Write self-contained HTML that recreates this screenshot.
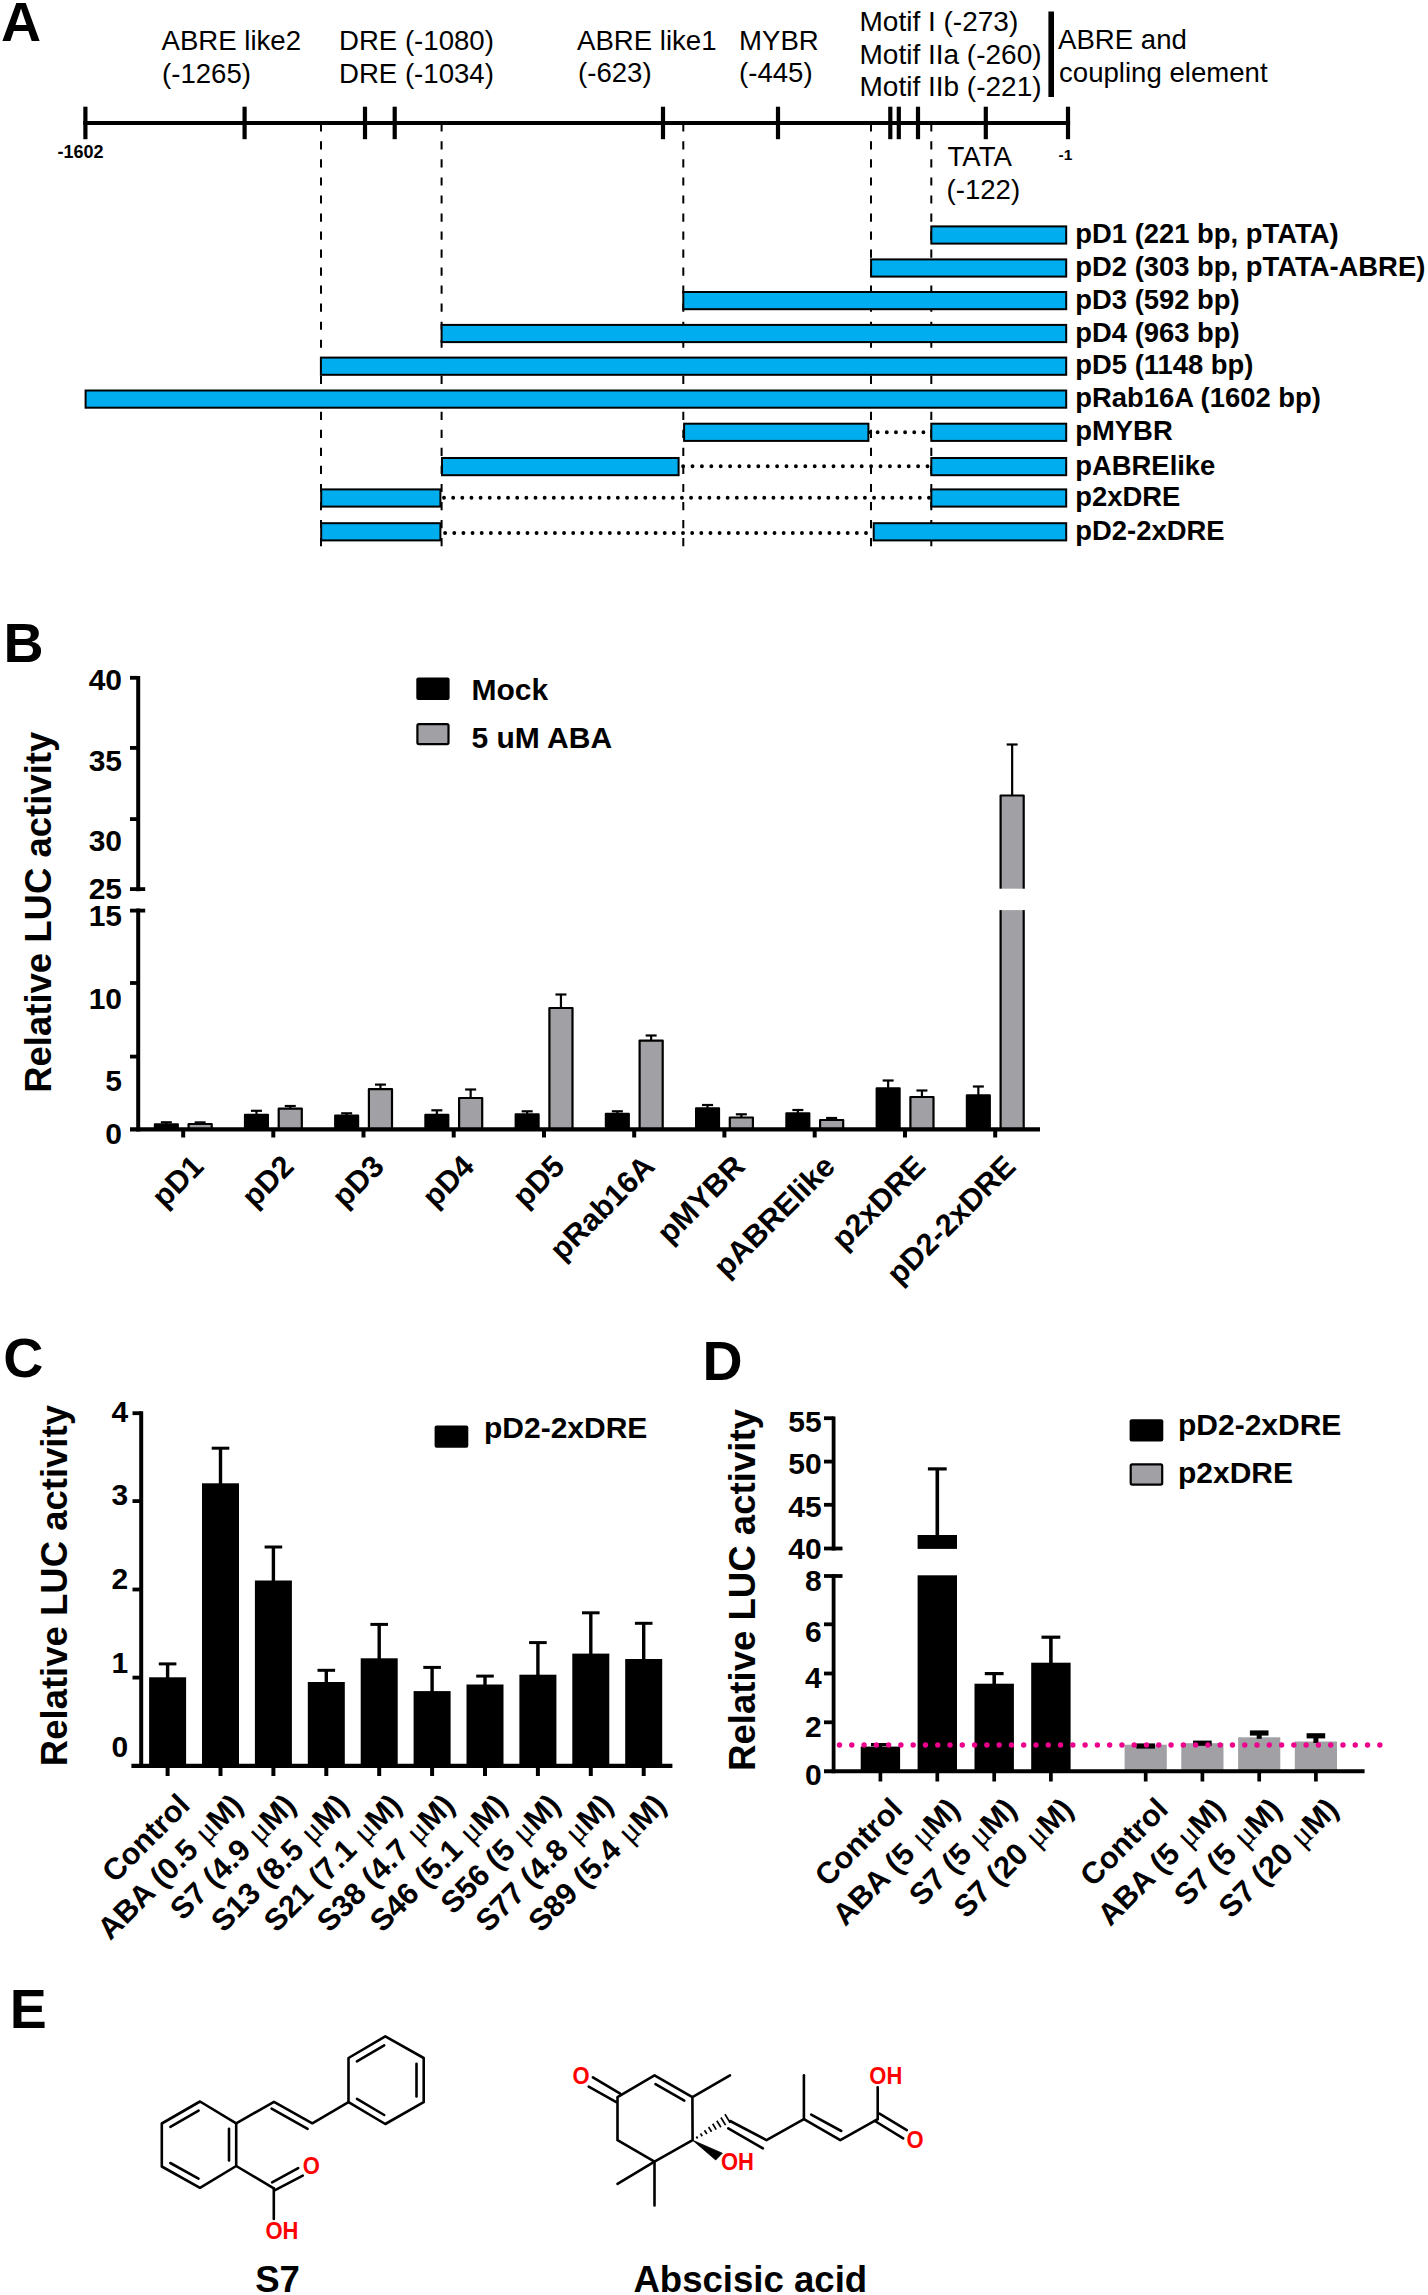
<!DOCTYPE html>
<html><head><meta charset="utf-8"><title>Figure</title>
<style>
html,body{margin:0;padding:0;background:#fff;}
body{width:1428px;height:2295px;overflow:hidden;}
svg{display:block;font-family:'Liberation Sans', sans-serif;}
</style></head>
<body>
<svg width="1428" height="2295" viewBox="0 0 1428 2295">
<rect width="1428" height="2295" fill="#fff"/>
<g id="A">
<text x="1" y="40.9" font-size="55.5" font-weight="700" text-anchor="start" fill="#000">A</text>
<text x="161.5" y="50" font-size="27.6" text-anchor="start" fill="#000">ABRE like2</text>
<text x="162" y="83" font-size="27.6" text-anchor="start" fill="#000">(-1265)</text>
<text x="339" y="50" font-size="27.6" text-anchor="start" fill="#000">DRE (-1080)</text>
<text x="339" y="83" font-size="27.6" text-anchor="start" fill="#000">DRE (-1034)</text>
<text x="577" y="49.7" font-size="27.6" text-anchor="start" fill="#000">ABRE like1</text>
<text x="578" y="82" font-size="27.6" text-anchor="start" fill="#000">(-623)</text>
<text x="739" y="49.7" font-size="27.6" text-anchor="start" fill="#000">MYBR</text>
<text x="739" y="82" font-size="27.6" text-anchor="start" fill="#000">(-445)</text>
<text x="859.5" y="31" font-size="28" text-anchor="start" fill="#000">Motif I (-273)</text>
<text x="859.5" y="63.5" font-size="28" text-anchor="start" fill="#000">Motif IIa (-260)</text>
<text x="859.5" y="95.5" font-size="28" text-anchor="start" fill="#000">Motif IIb (-221)</text>
<text x="1058" y="48.7" font-size="27.6" text-anchor="start" fill="#000">ABRE and</text>
<text x="1059" y="81.7" font-size="27.6" text-anchor="start" fill="#000">coupling element</text>
<line x1="1051.2" y1="11.5" x2="1051.2" y2="97" stroke="#000" stroke-width="5.6"/>
<text x="947.5" y="166.4" font-size="27.6" text-anchor="start" fill="#000">TATA</text>
<text x="946.5" y="199.2" font-size="27.6" text-anchor="start" fill="#000">(-122)</text>
<line x1="321" y1="123.3" x2="321" y2="546.4" stroke="#000" stroke-width="2" stroke-dasharray="8.2 9.83"/>
<line x1="441.6" y1="123.3" x2="441.6" y2="546.4" stroke="#000" stroke-width="2" stroke-dasharray="8.2 9.83"/>
<line x1="683.3" y1="123.3" x2="683.3" y2="546.4" stroke="#000" stroke-width="2" stroke-dasharray="8.2 9.83"/>
<line x1="871" y1="123.3" x2="871" y2="546.4" stroke="#000" stroke-width="2" stroke-dasharray="8.2 9.83"/>
<line x1="931.3" y1="123.3" x2="931.3" y2="546.4" stroke="#000" stroke-width="2" stroke-dasharray="8.2 9.83"/>
<line x1="83.3" y1="123" x2="1070.1" y2="123" stroke="#000" stroke-width="4.2"/>
<line x1="85.4" y1="106.7" x2="85.4" y2="139.2" stroke="#000" stroke-width="4.2"/>
<line x1="244.6" y1="106.7" x2="244.6" y2="139.2" stroke="#000" stroke-width="4.2"/>
<line x1="365" y1="106.7" x2="365" y2="139.2" stroke="#000" stroke-width="4.2"/>
<line x1="394.7" y1="106.7" x2="394.7" y2="139.2" stroke="#000" stroke-width="4.2"/>
<line x1="663" y1="106.7" x2="663" y2="139.2" stroke="#000" stroke-width="4.2"/>
<line x1="778" y1="106.7" x2="778" y2="139.2" stroke="#000" stroke-width="4.2"/>
<line x1="890.3" y1="106.7" x2="890.3" y2="139.2" stroke="#000" stroke-width="4.2"/>
<line x1="898.8" y1="106.7" x2="898.8" y2="139.2" stroke="#000" stroke-width="4.2"/>
<line x1="918" y1="106.7" x2="918" y2="139.2" stroke="#000" stroke-width="4.2"/>
<line x1="985.8" y1="106.7" x2="985.8" y2="139.2" stroke="#000" stroke-width="4.2"/>
<line x1="1068" y1="106.7" x2="1068" y2="139.2" stroke="#000" stroke-width="4.2"/>
<text x="57.5" y="158" font-size="18" font-weight="700" text-anchor="start" fill="#000">-1602</text>
<text x="1058.5" y="159.5" font-size="15.5" font-weight="700" text-anchor="start" fill="#000">-1</text>
<rect x="931.3" y="226.4" width="134.9" height="17.2" fill="#00AEEF" stroke="#000" stroke-width="2"/>
<text x="1075.3" y="243.0" font-size="27.4" font-weight="700" text-anchor="start" fill="#000">pD1 (221 bp, pTATA)</text>
<rect x="871.1" y="259.4" width="195.1" height="17.2" fill="#00AEEF" stroke="#000" stroke-width="2"/>
<text x="1075.3" y="276.0" font-size="27.4" font-weight="700" text-anchor="start" fill="#000">pD2 (303 bp, pTATA-ABRE)</text>
<rect x="683.3" y="292" width="382.9" height="17.2" fill="#00AEEF" stroke="#000" stroke-width="2"/>
<text x="1075.3" y="308.6" font-size="27.4" font-weight="700" text-anchor="start" fill="#000">pD3 (592 bp)</text>
<rect x="441.6" y="324.9" width="624.6" height="17.2" fill="#00AEEF" stroke="#000" stroke-width="2"/>
<text x="1075.3" y="341.5" font-size="27.4" font-weight="700" text-anchor="start" fill="#000">pD4 (963 bp)</text>
<rect x="320.9" y="357.6" width="745.3" height="17.2" fill="#00AEEF" stroke="#000" stroke-width="2"/>
<text x="1075.3" y="374.2" font-size="27.4" font-weight="700" text-anchor="start" fill="#000">pD5 (1148 bp)</text>
<rect x="85.6" y="390.5" width="980.6" height="17.2" fill="#00AEEF" stroke="#000" stroke-width="2"/>
<text x="1075.3" y="407.1" font-size="27.4" font-weight="700" text-anchor="start" fill="#000">pRab16A (1602 bp)</text>
<line x1="868.5" y1="432.2" x2="932.3" y2="432.2" stroke="#000" stroke-width="3.9" stroke-dasharray="0.01 9.14" stroke-linecap="round"/>
<rect x="684.1" y="423.7" width="184.3" height="17.2" fill="#00AEEF" stroke="#000" stroke-width="2"/>
<rect x="931.3" y="423.7" width="134.9" height="17.2" fill="#00AEEF" stroke="#000" stroke-width="2"/>
<text x="1075.3" y="440.3" font-size="27.4" font-weight="700" text-anchor="start" fill="#000">pMYBR</text>
<line x1="683.1" y1="466.3" x2="932.3" y2="466.3" stroke="#000" stroke-width="3.9" stroke-dasharray="0.01 9.39" stroke-linecap="round"/>
<rect x="442" y="458" width="236.6" height="17.2" fill="#00AEEF" stroke="#000" stroke-width="2"/>
<rect x="931.3" y="458" width="134.9" height="17.2" fill="#00AEEF" stroke="#000" stroke-width="2"/>
<text x="1075.3" y="474.6" font-size="27.4" font-weight="700" text-anchor="start" fill="#000">pABRElike</text>
<line x1="444" y1="497.8" x2="932.3" y2="497.8" stroke="#000" stroke-width="3.9" stroke-dasharray="0.01 9.14" stroke-linecap="round"/>
<rect x="321.2" y="489.4" width="119.2" height="17.2" fill="#00AEEF" stroke="#000" stroke-width="2"/>
<rect x="931.3" y="489.4" width="134.9" height="17.2" fill="#00AEEF" stroke="#000" stroke-width="2"/>
<text x="1075.3" y="506.0" font-size="27.4" font-weight="700" text-anchor="start" fill="#000">p2xDRE</text>
<line x1="445.1" y1="533" x2="874.7" y2="533" stroke="#000" stroke-width="3.9" stroke-dasharray="0.01 9.14" stroke-linecap="round"/>
<rect x="321.2" y="523.2" width="119.2" height="17.2" fill="#00AEEF" stroke="#000" stroke-width="2"/>
<rect x="873.7" y="523.2" width="192.5" height="17.2" fill="#00AEEF" stroke="#000" stroke-width="2"/>
<text x="1075.3" y="539.8" font-size="27.4" font-weight="700" text-anchor="start" fill="#000">pD2-2xDRE</text>
</g>
<g id="B">
<text x="3.5" y="661.8" font-size="55.5" font-weight="700" text-anchor="start" fill="#000">B</text>
<text x="50.6" y="912.3" font-size="36.5" font-weight="700" text-anchor="middle" fill="#000" transform="rotate(-90 50.6 912.3)">Relative LUC activity</text>
<line x1="138.2" y1="675.9" x2="138.2" y2="891.2" stroke="#000" stroke-width="4"/>
<line x1="138.2" y1="908.5" x2="138.2" y2="1131.5" stroke="#000" stroke-width="4"/>
<line x1="130" y1="677.8" x2="138.2" y2="677.8" stroke="#000" stroke-width="3.8"/>
<text x="122" y="690" font-size="30" font-weight="700" text-anchor="end" fill="#000">40</text>
<line x1="130" y1="747.9" x2="138.2" y2="747.9" stroke="#000" stroke-width="3.8"/>
<text x="122" y="770.5" font-size="30" font-weight="700" text-anchor="end" fill="#000">35</text>
<line x1="130" y1="819.1" x2="138.2" y2="819.1" stroke="#000" stroke-width="3.8"/>
<text x="122" y="851.2" font-size="30" font-weight="700" text-anchor="end" fill="#000">30</text>
<line x1="130" y1="889.1" x2="145.2" y2="889.1" stroke="#000" stroke-width="3.8"/>
<text x="122" y="899" font-size="30" font-weight="700" text-anchor="end" fill="#000">25</text>
<line x1="130" y1="910.6" x2="145.2" y2="910.6" stroke="#000" stroke-width="3.8"/>
<text x="122" y="926" font-size="30" font-weight="700" text-anchor="end" fill="#000">15</text>
<line x1="130" y1="983" x2="138.2" y2="983" stroke="#000" stroke-width="3.8"/>
<text x="122" y="1008.5" font-size="30" font-weight="700" text-anchor="end" fill="#000">10</text>
<line x1="130" y1="1056.6" x2="138.2" y2="1056.6" stroke="#000" stroke-width="3.8"/>
<text x="122" y="1091" font-size="30" font-weight="700" text-anchor="end" fill="#000">5</text>
<text x="122" y="1143.5" font-size="30" font-weight="700" text-anchor="end" fill="#000">0</text>
<line x1="183.2" y1="1129" x2="183.2" y2="1137.5" stroke="#000" stroke-width="4"/>
<line x1="166.35" y1="1122.3" x2="166.35" y2="1124.3" stroke="#000" stroke-width="2.2"/>
<line x1="160.85" y1="1122.3" x2="171.85" y2="1122.3" stroke="#000" stroke-width="2.2"/>
<rect x="154.8" y="1124.3" width="23.1" height="4.7" fill="#000" stroke="#000" stroke-width="2" stroke-linejoin="round"/>
<line x1="200.14999999999998" y1="1122.4" x2="200.14999999999998" y2="1124" stroke="#000" stroke-width="2.2"/>
<line x1="194.64999999999998" y1="1122.4" x2="205.64999999999998" y2="1122.4" stroke="#000" stroke-width="2.2"/>
<rect x="188.6" y="1124" width="23.1" height="5" fill="#A1A1A5" stroke="#000" stroke-width="2.2" stroke-linejoin="round"/>
<text x="205.4" y="1168.2" font-size="30.6" font-weight="700" text-anchor="end" fill="#000" transform="rotate(-45 205.4 1168.2)">pD1</text>
<line x1="273.3" y1="1129" x2="273.3" y2="1137.5" stroke="#000" stroke-width="4"/>
<line x1="256.45" y1="1110.8" x2="256.45" y2="1114.7" stroke="#000" stroke-width="2.2"/>
<line x1="250.95" y1="1110.8" x2="261.95" y2="1110.8" stroke="#000" stroke-width="2.2"/>
<rect x="244.9" y="1114.7" width="23.1" height="14.3" fill="#000" stroke="#000" stroke-width="2" stroke-linejoin="round"/>
<line x1="290.25" y1="1106" x2="290.25" y2="1108.7" stroke="#000" stroke-width="2.2"/>
<line x1="284.75" y1="1106" x2="295.75" y2="1106" stroke="#000" stroke-width="2.2"/>
<rect x="278.7" y="1108.7" width="23.1" height="20.3" fill="#A1A1A5" stroke="#000" stroke-width="2.2" stroke-linejoin="round"/>
<text x="295.5" y="1168.2" font-size="30.6" font-weight="700" text-anchor="end" fill="#000" transform="rotate(-45 295.5 1168.2)">pD2</text>
<line x1="363.5" y1="1129" x2="363.5" y2="1137.5" stroke="#000" stroke-width="4"/>
<line x1="346.65" y1="1113.3" x2="346.65" y2="1115.6" stroke="#000" stroke-width="2.2"/>
<line x1="341.15" y1="1113.3" x2="352.15" y2="1113.3" stroke="#000" stroke-width="2.2"/>
<rect x="335.1" y="1115.6" width="23.1" height="13.4" fill="#000" stroke="#000" stroke-width="2" stroke-linejoin="round"/>
<line x1="380.45" y1="1084.6" x2="380.45" y2="1089.2" stroke="#000" stroke-width="2.2"/>
<line x1="374.95" y1="1084.6" x2="385.95" y2="1084.6" stroke="#000" stroke-width="2.2"/>
<rect x="368.9" y="1089.2" width="23.1" height="39.8" fill="#A1A1A5" stroke="#000" stroke-width="2.2" stroke-linejoin="round"/>
<text x="385.7" y="1168.2" font-size="30.6" font-weight="700" text-anchor="end" fill="#000" transform="rotate(-45 385.7 1168.2)">pD3</text>
<line x1="453.7" y1="1129" x2="453.7" y2="1137.5" stroke="#000" stroke-width="4"/>
<line x1="436.84999999999997" y1="1110.3" x2="436.84999999999997" y2="1114.7" stroke="#000" stroke-width="2.2"/>
<line x1="431.34999999999997" y1="1110.3" x2="442.34999999999997" y2="1110.3" stroke="#000" stroke-width="2.2"/>
<rect x="425.3" y="1114.7" width="23.1" height="14.3" fill="#000" stroke="#000" stroke-width="2" stroke-linejoin="round"/>
<line x1="470.65" y1="1089.5" x2="470.65" y2="1098" stroke="#000" stroke-width="2.2"/>
<line x1="465.15" y1="1089.5" x2="476.15" y2="1089.5" stroke="#000" stroke-width="2.2"/>
<rect x="459.1" y="1098" width="23.1" height="31" fill="#A1A1A5" stroke="#000" stroke-width="2.2" stroke-linejoin="round"/>
<text x="475.9" y="1168.2" font-size="30.6" font-weight="700" text-anchor="end" fill="#000" transform="rotate(-45 475.9 1168.2)">pD4</text>
<line x1="544" y1="1129" x2="544" y2="1137.5" stroke="#000" stroke-width="4"/>
<line x1="527.15" y1="1111.3" x2="527.15" y2="1114.2" stroke="#000" stroke-width="2.2"/>
<line x1="521.65" y1="1111.3" x2="532.65" y2="1111.3" stroke="#000" stroke-width="2.2"/>
<rect x="515.6" y="1114.2" width="23.1" height="14.8" fill="#000" stroke="#000" stroke-width="2" stroke-linejoin="round"/>
<line x1="560.95" y1="994.5" x2="560.95" y2="1008" stroke="#000" stroke-width="2.2"/>
<line x1="555.45" y1="994.5" x2="566.45" y2="994.5" stroke="#000" stroke-width="2.2"/>
<rect x="549.4" y="1008" width="23.1" height="121" fill="#A1A1A5" stroke="#000" stroke-width="2.2" stroke-linejoin="round"/>
<text x="566.2" y="1168.2" font-size="30.6" font-weight="700" text-anchor="end" fill="#000" transform="rotate(-45 566.2 1168.2)">pD5</text>
<line x1="634.2" y1="1129" x2="634.2" y2="1137.5" stroke="#000" stroke-width="4"/>
<line x1="617.35" y1="1111.3" x2="617.35" y2="1113.8" stroke="#000" stroke-width="2.2"/>
<line x1="611.85" y1="1111.3" x2="622.85" y2="1111.3" stroke="#000" stroke-width="2.2"/>
<rect x="605.8" y="1113.8" width="23.1" height="15.2" fill="#000" stroke="#000" stroke-width="2" stroke-linejoin="round"/>
<line x1="651.1500000000001" y1="1035.5" x2="651.1500000000001" y2="1040.6" stroke="#000" stroke-width="2.2"/>
<line x1="645.6500000000001" y1="1035.5" x2="656.6500000000001" y2="1035.5" stroke="#000" stroke-width="2.2"/>
<rect x="639.6" y="1040.6" width="23.1" height="88.4" fill="#A1A1A5" stroke="#000" stroke-width="2.2" stroke-linejoin="round"/>
<text x="656.4" y="1168.2" font-size="30.6" font-weight="700" text-anchor="end" fill="#000" transform="rotate(-45 656.4 1168.2)">pRab16A</text>
<line x1="724.4" y1="1129" x2="724.4" y2="1137.5" stroke="#000" stroke-width="4"/>
<line x1="707.55" y1="1105" x2="707.55" y2="1108.3" stroke="#000" stroke-width="2.2"/>
<line x1="702.05" y1="1105" x2="713.05" y2="1105" stroke="#000" stroke-width="2.2"/>
<rect x="696.0" y="1108.3" width="23.1" height="20.7" fill="#000" stroke="#000" stroke-width="2" stroke-linejoin="round"/>
<line x1="741.35" y1="1114.3" x2="741.35" y2="1117.5" stroke="#000" stroke-width="2.2"/>
<line x1="735.85" y1="1114.3" x2="746.85" y2="1114.3" stroke="#000" stroke-width="2.2"/>
<rect x="729.8" y="1117.5" width="23.1" height="11.5" fill="#A1A1A5" stroke="#000" stroke-width="2.2" stroke-linejoin="round"/>
<text x="746.6" y="1168.2" font-size="30.6" font-weight="700" text-anchor="end" fill="#000" transform="rotate(-45 746.6 1168.2)">pMYBR</text>
<line x1="814.7" y1="1129" x2="814.7" y2="1137.5" stroke="#000" stroke-width="4"/>
<line x1="797.85" y1="1110" x2="797.85" y2="1113.3" stroke="#000" stroke-width="2.2"/>
<line x1="792.35" y1="1110" x2="803.35" y2="1110" stroke="#000" stroke-width="2.2"/>
<rect x="786.3" y="1113.3" width="23.1" height="15.7" fill="#000" stroke="#000" stroke-width="2" stroke-linejoin="round"/>
<line x1="831.6500000000001" y1="1118" x2="831.6500000000001" y2="1120" stroke="#000" stroke-width="2.2"/>
<line x1="826.1500000000001" y1="1118" x2="837.1500000000001" y2="1118" stroke="#000" stroke-width="2.2"/>
<rect x="820.1" y="1120" width="23.1" height="9" fill="#A1A1A5" stroke="#000" stroke-width="2.2" stroke-linejoin="round"/>
<text x="836.9" y="1168.2" font-size="30.6" font-weight="700" text-anchor="end" fill="#000" transform="rotate(-45 836.9 1168.2)">pABRElike</text>
<line x1="905" y1="1129" x2="905" y2="1137.5" stroke="#000" stroke-width="4"/>
<line x1="888.15" y1="1080.5" x2="888.15" y2="1088.3" stroke="#000" stroke-width="2.2"/>
<line x1="882.65" y1="1080.5" x2="893.65" y2="1080.5" stroke="#000" stroke-width="2.2"/>
<rect x="876.6" y="1088.3" width="23.1" height="40.7" fill="#000" stroke="#000" stroke-width="2" stroke-linejoin="round"/>
<line x1="921.95" y1="1090.5" x2="921.95" y2="1097" stroke="#000" stroke-width="2.2"/>
<line x1="916.45" y1="1090.5" x2="927.45" y2="1090.5" stroke="#000" stroke-width="2.2"/>
<rect x="910.4" y="1097" width="23.1" height="32" fill="#A1A1A5" stroke="#000" stroke-width="2.2" stroke-linejoin="round"/>
<text x="927.2" y="1168.2" font-size="30.6" font-weight="700" text-anchor="end" fill="#000" transform="rotate(-45 927.2 1168.2)">p2xDRE</text>
<line x1="995.2" y1="1129" x2="995.2" y2="1137.5" stroke="#000" stroke-width="4"/>
<line x1="978.35" y1="1086.5" x2="978.35" y2="1095.3" stroke="#000" stroke-width="2.2"/>
<line x1="972.85" y1="1086.5" x2="983.85" y2="1086.5" stroke="#000" stroke-width="2.2"/>
<rect x="966.8" y="1095.3" width="23.1" height="33.7" fill="#000" stroke="#000" stroke-width="2" stroke-linejoin="round"/>
<line x1="1012.1500000000001" y1="744.5" x2="1012.1500000000001" y2="795.5" stroke="#000" stroke-width="2.2"/>
<line x1="1006.6500000000001" y1="744.5" x2="1017.6500000000001" y2="744.5" stroke="#000" stroke-width="2.2"/>
<rect x="1000.6" y="795.5" width="23.1" height="333.5" fill="#A1A1A5" stroke="#000" stroke-width="2.2" stroke-linejoin="round"/>
<text x="1017.4" y="1168.2" font-size="30.6" font-weight="700" text-anchor="end" fill="#000" transform="rotate(-45 1017.4 1168.2)">pD2-2xDRE</text>
<line x1="130" y1="1129.4" x2="1040" y2="1129.4" stroke="#000" stroke-width="4.2"/>
<rect x="998" y="888.7" width="29" height="21.4" fill="#fff"/>
<rect x="416.3" y="677.6" width="33.3" height="22.4" fill="#000" rx="2"/>
<text x="471.5" y="700" font-size="30" font-weight="700" text-anchor="start" fill="#000">Mock</text>
<rect x="417.4" y="724.1" width="31.1" height="20" fill="#A1A1A5" stroke="#000" stroke-width="2.2" rx="1.5"/>
<text x="471.5" y="748.2" font-size="30" font-weight="700" text-anchor="start" fill="#000">5 uM ABA</text>
</g>
<g id="C">
<text x="3.3" y="1376.5" font-size="55.5" font-weight="700" text-anchor="start" fill="#000">C</text>
<text x="66.6" y="1585.6" font-size="36.5" font-weight="700" text-anchor="middle" fill="#000" transform="rotate(-90 66.6 1585.6)">Relative LUC activity</text>
<line x1="141.2" y1="1411.3" x2="141.2" y2="1768" stroke="#000" stroke-width="4"/>
<line x1="132.5" y1="1413.2" x2="141.2" y2="1413.2" stroke="#000" stroke-width="3.8"/>
<text x="128.3" y="1422" font-size="30" font-weight="700" text-anchor="end" fill="#000">4</text>
<line x1="132.5" y1="1501.1" x2="141.2" y2="1501.1" stroke="#000" stroke-width="3.8"/>
<text x="128.3" y="1505.4" font-size="30" font-weight="700" text-anchor="end" fill="#000">3</text>
<line x1="132.5" y1="1589.5" x2="141.2" y2="1589.5" stroke="#000" stroke-width="3.8"/>
<text x="128.3" y="1589.4" font-size="30" font-weight="700" text-anchor="end" fill="#000">2</text>
<line x1="132.5" y1="1677.6" x2="141.2" y2="1677.6" stroke="#000" stroke-width="3.8"/>
<text x="128.3" y="1673" font-size="30" font-weight="700" text-anchor="end" fill="#000">1</text>
<text x="128.3" y="1757.2" font-size="30" font-weight="700" text-anchor="end" fill="#000">0</text>
<line x1="167.6" y1="1766" x2="167.6" y2="1776" stroke="#000" stroke-width="4"/>
<line x1="167.6" y1="1663.9" x2="167.6" y2="1678.3" stroke="#000" stroke-width="3.4"/>
<line x1="158.79999999999998" y1="1663.9" x2="176.4" y2="1663.9" stroke="#000" stroke-width="3"/>
<rect x="149.1" y="1677.3" width="37" height="88.7" fill="#000"/>
<text x="191.6" y="1807" font-size="30.6" font-weight="700" text-anchor="end" fill="#000" transform="rotate(-45 191.6 1807)">Control</text>
<line x1="220.5" y1="1766" x2="220.5" y2="1776" stroke="#000" stroke-width="4"/>
<line x1="220.5" y1="1448.2" x2="220.5" y2="1484.3" stroke="#000" stroke-width="3.4"/>
<line x1="211.7" y1="1448.2" x2="229.3" y2="1448.2" stroke="#000" stroke-width="3"/>
<rect x="202.0" y="1483.3" width="37" height="282.7" fill="#000"/>
<text x="244.5" y="1807" font-size="30.6" font-weight="700" text-anchor="end" fill="#000" transform="rotate(-45 244.5 1807)">ABA (0.5 <tspan font-family="Liberation Serif, serif" font-weight="400" font-size="33" dx="1.5">μ</tspan>M)</text>
<line x1="273.4" y1="1766" x2="273.4" y2="1776" stroke="#000" stroke-width="4"/>
<line x1="273.4" y1="1547" x2="273.4" y2="1581.5" stroke="#000" stroke-width="3.4"/>
<line x1="264.59999999999997" y1="1547" x2="282.2" y2="1547" stroke="#000" stroke-width="3"/>
<rect x="254.9" y="1580.5" width="37" height="185.5" fill="#000"/>
<text x="297.4" y="1807" font-size="30.6" font-weight="700" text-anchor="end" fill="#000" transform="rotate(-45 297.4 1807)">S7 (4.9 <tspan font-family="Liberation Serif, serif" font-weight="400" font-size="33" dx="1.5">μ</tspan>M)</text>
<line x1="326.3" y1="1766" x2="326.3" y2="1776" stroke="#000" stroke-width="4"/>
<line x1="326.3" y1="1670.3" x2="326.3" y2="1683" stroke="#000" stroke-width="3.4"/>
<line x1="317.5" y1="1670.3" x2="335.1" y2="1670.3" stroke="#000" stroke-width="3"/>
<rect x="307.8" y="1682" width="37" height="84" fill="#000"/>
<text x="350.3" y="1807" font-size="30.6" font-weight="700" text-anchor="end" fill="#000" transform="rotate(-45 350.3 1807)">S13 (8.5 <tspan font-family="Liberation Serif, serif" font-weight="400" font-size="33" dx="1.5">μ</tspan>M)</text>
<line x1="379.2" y1="1766" x2="379.2" y2="1776" stroke="#000" stroke-width="4"/>
<line x1="379.2" y1="1624.4" x2="379.2" y2="1659.3" stroke="#000" stroke-width="3.4"/>
<line x1="370.4" y1="1624.4" x2="388.0" y2="1624.4" stroke="#000" stroke-width="3"/>
<rect x="360.7" y="1658.3" width="37" height="107.7" fill="#000"/>
<text x="403.2" y="1807" font-size="30.6" font-weight="700" text-anchor="end" fill="#000" transform="rotate(-45 403.2 1807)">S21 (7.1 <tspan font-family="Liberation Serif, serif" font-weight="400" font-size="33" dx="1.5">μ</tspan>M)</text>
<line x1="432.1" y1="1766" x2="432.1" y2="1776" stroke="#000" stroke-width="4"/>
<line x1="432.1" y1="1667.4" x2="432.1" y2="1692.1" stroke="#000" stroke-width="3.4"/>
<line x1="423.3" y1="1667.4" x2="440.90000000000003" y2="1667.4" stroke="#000" stroke-width="3"/>
<rect x="413.6" y="1691.1" width="37" height="74.9" fill="#000"/>
<text x="456.1" y="1807" font-size="30.6" font-weight="700" text-anchor="end" fill="#000" transform="rotate(-45 456.1 1807)">S38 (4.7 <tspan font-family="Liberation Serif, serif" font-weight="400" font-size="33" dx="1.5">μ</tspan>M)</text>
<line x1="485.0" y1="1766" x2="485.0" y2="1776" stroke="#000" stroke-width="4"/>
<line x1="485.0" y1="1676.1" x2="485.0" y2="1685.5" stroke="#000" stroke-width="3.4"/>
<line x1="476.2" y1="1676.1" x2="493.8" y2="1676.1" stroke="#000" stroke-width="3"/>
<rect x="466.5" y="1684.5" width="37" height="81.5" fill="#000"/>
<text x="509.0" y="1807" font-size="30.6" font-weight="700" text-anchor="end" fill="#000" transform="rotate(-45 509.0 1807)">S46 (5.1 <tspan font-family="Liberation Serif, serif" font-weight="400" font-size="33" dx="1.5">μ</tspan>M)</text>
<line x1="537.9" y1="1766" x2="537.9" y2="1776" stroke="#000" stroke-width="4"/>
<line x1="537.9" y1="1642.6" x2="537.9" y2="1675.7" stroke="#000" stroke-width="3.4"/>
<line x1="529.1" y1="1642.6" x2="546.6999999999999" y2="1642.6" stroke="#000" stroke-width="3"/>
<rect x="519.4" y="1674.7" width="37" height="91.3" fill="#000"/>
<text x="561.9" y="1807" font-size="30.6" font-weight="700" text-anchor="end" fill="#000" transform="rotate(-45 561.9 1807)">S56 (5 <tspan font-family="Liberation Serif, serif" font-weight="400" font-size="33" dx="1.5">μ</tspan>M)</text>
<line x1="590.8" y1="1766" x2="590.8" y2="1776" stroke="#000" stroke-width="4"/>
<line x1="590.8" y1="1612.8" x2="590.8" y2="1654.6" stroke="#000" stroke-width="3.4"/>
<line x1="582.0" y1="1612.8" x2="599.5999999999999" y2="1612.8" stroke="#000" stroke-width="3"/>
<rect x="572.3" y="1653.6" width="37" height="112.4" fill="#000"/>
<text x="614.8" y="1807" font-size="30.6" font-weight="700" text-anchor="end" fill="#000" transform="rotate(-45 614.8 1807)">S77 (4.8 <tspan font-family="Liberation Serif, serif" font-weight="400" font-size="33" dx="1.5">μ</tspan>M)</text>
<line x1="643.7" y1="1766" x2="643.7" y2="1776" stroke="#000" stroke-width="4"/>
<line x1="643.7" y1="1623.3" x2="643.7" y2="1660" stroke="#000" stroke-width="3.4"/>
<line x1="634.9000000000001" y1="1623.3" x2="652.5" y2="1623.3" stroke="#000" stroke-width="3"/>
<rect x="625.2" y="1659" width="37" height="107" fill="#000"/>
<text x="667.7" y="1807" font-size="30.6" font-weight="700" text-anchor="end" fill="#000" transform="rotate(-45 667.7 1807)">S89 (5.4 <tspan font-family="Liberation Serif, serif" font-weight="400" font-size="33" dx="1.5">μ</tspan>M)</text>
<line x1="131.4" y1="1765.9" x2="672.4" y2="1765.9" stroke="#000" stroke-width="4.2"/>
<rect x="434.6" y="1425.5" width="33.7" height="22.2" fill="#000" rx="2"/>
<text x="484" y="1438.3" font-size="30" font-weight="700" text-anchor="start" fill="#000">pD2-2xDRE</text>
</g>
<g id="D">
<text x="702.6" y="1380.4" font-size="55.5" font-weight="700" text-anchor="start" fill="#000">D</text>
<text x="755.3" y="1590" font-size="36.6" font-weight="700" text-anchor="middle" fill="#000" transform="rotate(-90 755.3 1590)">Relative LUC activity</text>
<line x1="833.6" y1="1416.4" x2="833.6" y2="1550.4" stroke="#000" stroke-width="3.8"/>
<line x1="833.6" y1="1574.1" x2="833.6" y2="1773.2" stroke="#000" stroke-width="3.8"/>
<line x1="824" y1="1418.2" x2="833.6" y2="1418.2" stroke="#000" stroke-width="3.8"/>
<text x="821.6" y="1432.3" font-size="30" font-weight="700" text-anchor="end" fill="#000">55</text>
<line x1="824" y1="1461.6" x2="833.6" y2="1461.6" stroke="#000" stroke-width="3.8"/>
<text x="821.6" y="1474.3" font-size="30" font-weight="700" text-anchor="end" fill="#000">50</text>
<line x1="824" y1="1504.8" x2="833.6" y2="1504.8" stroke="#000" stroke-width="3.8"/>
<text x="821.6" y="1516.9" font-size="30" font-weight="700" text-anchor="end" fill="#000">45</text>
<line x1="824" y1="1548.5" x2="842.5" y2="1548.5" stroke="#000" stroke-width="3.8"/>
<text x="821.6" y="1558.5" font-size="30" font-weight="700" text-anchor="end" fill="#000">40</text>
<line x1="824" y1="1576" x2="842.5" y2="1576" stroke="#000" stroke-width="3.8"/>
<text x="821.6" y="1591" font-size="30" font-weight="700" text-anchor="end" fill="#000">8</text>
<line x1="824" y1="1624.3" x2="833.6" y2="1624.3" stroke="#000" stroke-width="3.8"/>
<text x="821.6" y="1642.2" font-size="30" font-weight="700" text-anchor="end" fill="#000">6</text>
<line x1="824" y1="1673.5" x2="833.6" y2="1673.5" stroke="#000" stroke-width="3.8"/>
<text x="821.6" y="1687.5" font-size="30" font-weight="700" text-anchor="end" fill="#000">4</text>
<line x1="824" y1="1722.3" x2="833.6" y2="1722.3" stroke="#000" stroke-width="3.8"/>
<text x="821.6" y="1736.6" font-size="30" font-weight="700" text-anchor="end" fill="#000">2</text>
<text x="821.6" y="1785" font-size="30" font-weight="700" text-anchor="end" fill="#000">0</text>
<line x1="880.4" y1="1771" x2="880.4" y2="1781.5" stroke="#000" stroke-width="3.7"/>
<line x1="880.4" y1="1744.6" x2="880.4" y2="1747.6" stroke="#000" stroke-width="3.6"/>
<line x1="871.0" y1="1744.6" x2="889.8" y2="1744.6" stroke="#000" stroke-width="3.2"/>
<rect x="860.7" y="1746.6" width="39.4" height="24.0" fill="#000"/>
<text x="904.4" y="1811" font-size="30.6" font-weight="700" text-anchor="end" fill="#000" transform="rotate(-45 904.4 1811)">Control</text>
<line x1="937.3" y1="1771" x2="937.3" y2="1781.5" stroke="#000" stroke-width="3.7"/>
<line x1="937.3" y1="1468.9" x2="937.3" y2="1536" stroke="#000" stroke-width="3.6"/>
<line x1="927.9" y1="1468.9" x2="946.6999999999999" y2="1468.9" stroke="#000" stroke-width="3.2"/>
<rect x="917.6" y="1535" width="39.4" height="235.6" fill="#000"/>
<text x="961.3" y="1811" font-size="30.6" font-weight="700" text-anchor="end" fill="#000" transform="rotate(-45 961.3 1811)">ABA (5 <tspan font-family="Liberation Serif, serif" font-weight="400" font-size="33" dx="1.5">μ</tspan>M)</text>
<line x1="994.2" y1="1771" x2="994.2" y2="1781.5" stroke="#000" stroke-width="3.7"/>
<line x1="994.2" y1="1673.6" x2="994.2" y2="1684.7" stroke="#000" stroke-width="3.6"/>
<line x1="984.8000000000001" y1="1673.6" x2="1003.6" y2="1673.6" stroke="#000" stroke-width="3.2"/>
<rect x="974.5" y="1683.7" width="39.4" height="86.9" fill="#000"/>
<text x="1018.2" y="1811" font-size="30.6" font-weight="700" text-anchor="end" fill="#000" transform="rotate(-45 1018.2 1811)">S7 (5 <tspan font-family="Liberation Serif, serif" font-weight="400" font-size="33" dx="1.5">μ</tspan>M)</text>
<line x1="1050.9" y1="1771" x2="1050.9" y2="1781.5" stroke="#000" stroke-width="3.7"/>
<line x1="1050.9" y1="1637.2" x2="1050.9" y2="1663.7" stroke="#000" stroke-width="3.6"/>
<line x1="1041.5" y1="1637.2" x2="1060.3000000000002" y2="1637.2" stroke="#000" stroke-width="3.2"/>
<rect x="1031.2" y="1662.7" width="39.4" height="107.9" fill="#000"/>
<text x="1074.9" y="1811" font-size="30.6" font-weight="700" text-anchor="end" fill="#000" transform="rotate(-45 1074.9 1811)">S7 (20 <tspan font-family="Liberation Serif, serif" font-weight="400" font-size="33" dx="1.5">μ</tspan>M)</text>
<rect x="915.3" y="1548.9" width="44" height="26.4" fill="#fff"/>
<line x1="1145.7" y1="1771" x2="1145.7" y2="1781.5" stroke="#000" stroke-width="3.7"/>
<rect x="1124.6" y="1744.7" width="42.2" height="25.9" fill="#A1A1A5"/>
<line x1="1145.7" y1="1746" x2="1145.7" y2="1746.2" stroke="#000" stroke-width="5"/>
<line x1="1136.4" y1="1746" x2="1155.0" y2="1746" stroke="#000" stroke-width="5.2"/>
<text x="1169.7" y="1811" font-size="30.6" font-weight="700" text-anchor="end" fill="#000" transform="rotate(-45 1169.7 1811)">Control</text>
<line x1="1202.4" y1="1771" x2="1202.4" y2="1781.5" stroke="#000" stroke-width="3.7"/>
<rect x="1181.3" y="1743.2" width="42.2" height="27.4" fill="#A1A1A5"/>
<line x1="1202.4" y1="1743.2" x2="1202.4" y2="1744.7" stroke="#000" stroke-width="5"/>
<line x1="1193.1000000000001" y1="1743.2" x2="1211.7" y2="1743.2" stroke="#000" stroke-width="5.2"/>
<text x="1226.4" y="1811" font-size="30.6" font-weight="700" text-anchor="end" fill="#000" transform="rotate(-45 1226.4 1811)">ABA (5 <tspan font-family="Liberation Serif, serif" font-weight="400" font-size="33" dx="1.5">μ</tspan>M)</text>
<line x1="1259.2" y1="1771" x2="1259.2" y2="1781.5" stroke="#000" stroke-width="3.7"/>
<rect x="1238.1" y="1737.3" width="42.2" height="33.3" fill="#A1A1A5"/>
<line x1="1259.2" y1="1733" x2="1259.2" y2="1738.8" stroke="#000" stroke-width="5"/>
<line x1="1249.9" y1="1733" x2="1268.5" y2="1733" stroke="#000" stroke-width="5.2"/>
<text x="1283.2" y="1811" font-size="30.6" font-weight="700" text-anchor="end" fill="#000" transform="rotate(-45 1283.2 1811)">S7 (5 <tspan font-family="Liberation Serif, serif" font-weight="400" font-size="33" dx="1.5">μ</tspan>M)</text>
<line x1="1315.9" y1="1771" x2="1315.9" y2="1781.5" stroke="#000" stroke-width="3.7"/>
<rect x="1294.8" y="1741.5" width="42.2" height="29.1" fill="#A1A1A5"/>
<line x1="1315.9" y1="1735.8" x2="1315.9" y2="1743.0" stroke="#000" stroke-width="5"/>
<line x1="1306.6000000000001" y1="1735.8" x2="1325.2" y2="1735.8" stroke="#000" stroke-width="5.2"/>
<text x="1339.9" y="1811" font-size="30.6" font-weight="700" text-anchor="end" fill="#000" transform="rotate(-45 1339.9 1811)">S7 (20 <tspan font-family="Liberation Serif, serif" font-weight="400" font-size="33" dx="1.5">μ</tspan>M)</text>
<line x1="824" y1="1771.2" x2="1364.6" y2="1771.2" stroke="#000" stroke-width="4"/>
<line x1="839.5" y1="1745" x2="1380.5" y2="1745" stroke="#EC008C" stroke-width="5.4" stroke-dasharray="0.01 12.27" stroke-linecap="round"/>
<rect x="1129.6" y="1419.2" width="33.7" height="22.2" fill="#000" rx="2"/>
<text x="1178" y="1434.5" font-size="30" font-weight="700" text-anchor="start" fill="#000">pD2-2xDRE</text>
<rect x="1130.7" y="1464.4" width="31.5" height="20.2" fill="#A1A1A5" stroke="#000" stroke-width="2.2" rx="1.5"/>
<text x="1178" y="1483.3" font-size="30" font-weight="700" text-anchor="start" fill="#000">p2xDRE</text>
</g>
<g id="E">
<text x="9.8" y="2028" font-size="55.5" font-weight="700" text-anchor="start" fill="#000">E</text>
<path d="M161.8 2123.5 L200.0 2101.5 L236.2 2123.3 L236.2 2166.0 L200.0 2187.8 L161.8 2166.5 Z" fill="none" stroke="#000" stroke-width="2.6" stroke-linejoin="round" stroke-linecap="round"/>
<path d="M170.4 2126.9 L198.6 2110.6" fill="none" stroke="#000" stroke-width="2.6" stroke-linejoin="round" stroke-linecap="round"/>
<path d="M229.0 2128.9 L229.0 2160.4" fill="none" stroke="#000" stroke-width="2.6" stroke-linejoin="round" stroke-linecap="round"/>
<path d="M198.5 2178.7 L170.3 2163.0" fill="none" stroke="#000" stroke-width="2.6" stroke-linejoin="round" stroke-linecap="round"/>
<path d="M236.2 2123.3 L274.0 2101.8 L312.3 2123.3 L348.5 2102.2" fill="none" stroke="#000" stroke-width="2.6" stroke-linejoin="round" stroke-linecap="round"/>
<path d="M271.6 2108.7 L307.6 2128.9" fill="none" stroke="#000" stroke-width="2.6" stroke-linejoin="round" stroke-linecap="round"/>
<path d="M348.5 2102.2 L348.5 2058.0 L385.3 2036.3 L423.7 2058.0 L423.7 2102.2 L385.3 2124.0 Z" fill="none" stroke="#000" stroke-width="2.6" stroke-linejoin="round" stroke-linecap="round"/>
<path d="M356.9 2061.4 L384.2 2045.3" fill="none" stroke="#000" stroke-width="2.6" stroke-linejoin="round" stroke-linecap="round"/>
<path d="M416.5 2063.7 L416.5 2096.5" fill="none" stroke="#000" stroke-width="2.6" stroke-linejoin="round" stroke-linecap="round"/>
<path d="M384.2 2115.0 L357.0 2098.8" fill="none" stroke="#000" stroke-width="2.6" stroke-linejoin="round" stroke-linecap="round"/>
<path d="M236.2 2166.0 L273.8 2188.3" fill="none" stroke="#000" stroke-width="2.6" stroke-linejoin="round" stroke-linecap="round"/>
<path d="M273.8 2188.3 L273.8 2219.0" fill="none" stroke="#000" stroke-width="2.6" stroke-linejoin="round" stroke-linecap="round"/>
<path d="M272.1 2182.4 L298.2 2168.2" fill="none" stroke="#000" stroke-width="2.6" stroke-linejoin="round" stroke-linecap="round"/>
<path d="M274.6 2190.4 L302.8 2175.7" fill="none" stroke="#000" stroke-width="2.6" stroke-linejoin="round" stroke-linecap="round"/>
<text transform="translate(311.2 2173.6) scale(1 1.12)" font-size="22" font-weight="700" text-anchor="middle" fill="#FF0000">O</text>
<text transform="translate(282 2238.7) scale(1 1.12)" font-size="22" font-weight="700" text-anchor="middle" fill="#FF0000">OH</text>
<text x="277.5" y="2291.5" font-size="36.6" font-weight="700" text-anchor="middle" fill="#000">S7</text>
<path d="M617.5 2097.1 L654.5 2075.3 L692.4 2097.1 L692.6 2140.2 L654.5 2161.7 L617.5 2140.2 Z" fill="none" stroke="#000" stroke-width="2.6" stroke-linejoin="round" stroke-linecap="round"/>
<path d="M655.5 2084.2 L684.3 2100.7" fill="none" stroke="#000" stroke-width="2.6" stroke-linejoin="round" stroke-linecap="round"/>
<path d="M592.9 2077.3 L620.2 2093.7" fill="none" stroke="#000" stroke-width="2.6" stroke-linejoin="round" stroke-linecap="round"/>
<path d="M588.7 2086.7 L616.3 2102.1" fill="none" stroke="#000" stroke-width="2.6" stroke-linejoin="round" stroke-linecap="round"/>
<text transform="translate(581 2084.2) scale(1 1.12)" font-size="22" font-weight="700" text-anchor="middle" fill="#FF0000">O</text>
<path d="M692.4 2097.1 L730.0 2075.3" fill="none" stroke="#000" stroke-width="2.6" stroke-linejoin="round" stroke-linecap="round"/>
<path d="M654.5 2161.7 L617.5 2183.9" fill="none" stroke="#000" stroke-width="2.6" stroke-linejoin="round" stroke-linecap="round"/>
<path d="M654.5 2161.7 L654.5 2205.4" fill="none" stroke="#000" stroke-width="2.6" stroke-linejoin="round" stroke-linecap="round"/>
<path d="M692.6 2140.2 L722.3 2153.2 L715.7 2160 Z" fill="#000" stroke="#000" stroke-width="0.8" stroke-linejoin="round"/>
<text transform="translate(737.4 2170) scale(1 1.12)" font-size="22" font-weight="700" text-anchor="middle" fill="#FF0000">OH</text>
<line x1="696.4" y1="2136.5" x2="697.6" y2="2138.5" stroke="#000" stroke-width="1.7"/>
<line x1="700.5" y1="2133.4" x2="702.2" y2="2136.2" stroke="#000" stroke-width="1.7"/>
<line x1="704.5" y1="2130.2" x2="706.9" y2="2134.0" stroke="#000" stroke-width="1.7"/>
<line x1="708.6" y1="2127.0" x2="711.6" y2="2131.8" stroke="#000" stroke-width="1.7"/>
<line x1="712.7" y1="2123.8" x2="716.2" y2="2129.6" stroke="#000" stroke-width="1.7"/>
<line x1="716.8" y1="2120.7" x2="720.9" y2="2127.3" stroke="#000" stroke-width="1.7"/>
<line x1="720.9" y1="2117.5" x2="725.6" y2="2125.1" stroke="#000" stroke-width="1.7"/>
<line x1="725.0" y1="2114.3" x2="730.2" y2="2122.9" stroke="#000" stroke-width="1.7"/>
<path d="M730.1 2121.0 L766.5 2140.1 L803.9 2119.2 L840.3 2140.1 L877.7 2119.2" fill="none" stroke="#000" stroke-width="2.6" stroke-linejoin="round" stroke-linecap="round"/>
<path d="M728.3 2128.3 L762.9 2148.3" fill="none" stroke="#000" stroke-width="2.6" stroke-linejoin="round" stroke-linecap="round"/>
<path d="M811.2 2114.6 L841.3 2131.0" fill="none" stroke="#000" stroke-width="2.6" stroke-linejoin="round" stroke-linecap="round"/>
<path d="M803.9 2119.2 L803.9 2075.3" fill="none" stroke="#000" stroke-width="2.6" stroke-linejoin="round" stroke-linecap="round"/>
<path d="M877.7 2119.2 L877.7 2087.3" fill="none" stroke="#000" stroke-width="2.6" stroke-linejoin="round" stroke-linecap="round"/>
<text transform="translate(885.8 2084.2) scale(1 1.12)" font-size="22" font-weight="700" text-anchor="middle" fill="#FF0000">OH</text>
<path d="M879.5 2113.7 L906.8 2130.1" fill="none" stroke="#000" stroke-width="2.6" stroke-linejoin="round" stroke-linecap="round"/>
<path d="M874.9 2121.0 L903.2 2138.3" fill="none" stroke="#000" stroke-width="2.6" stroke-linejoin="round" stroke-linecap="round"/>
<text transform="translate(915 2148) scale(1 1.12)" font-size="22" font-weight="700" text-anchor="middle" fill="#FF0000">O</text>
<text x="750.3" y="2292" font-size="36.6" font-weight="700" text-anchor="middle" fill="#000">Abscisic acid</text>
</g>
</svg>
</body></html>
